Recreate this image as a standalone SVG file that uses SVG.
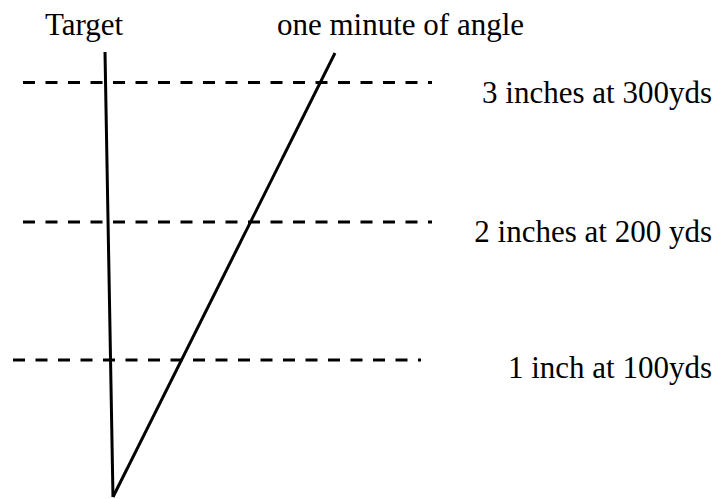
<svg xmlns="http://www.w3.org/2000/svg" width="724" height="499" viewBox="0 0 724 499">
<style>
.t{font-family:"Liberation Serif","Times New Roman",serif;font-size:31px;fill:#000}
.d{stroke:#000;stroke-width:3;stroke-dasharray:12 10.5;fill:none}
.s{stroke:#000;stroke-width:3;fill:none}
</style>
<rect width="724" height="499" fill="#fff"/>
<g id="dashes">
<line class="d" x1="23" y1="82.5" x2="432" y2="82.5"/>
<line class="d" x1="23" y1="222" x2="432" y2="222"/>
<line class="d" x1="13" y1="360" x2="421" y2="360"/>
</g>
<g id="connectors">
<line class="s" x1="105" y1="52" x2="113" y2="497"/>
<line class="s" x1="113" y1="497" x2="335" y2="53"/>
</g>
<g id="labels">
<text class="t" x="45" y="35">Target</text>
<text class="t" x="277" y="35">one minute of angle</text>
<text class="t" x="712" y="103" text-anchor="end">3 inches at 300yds</text>
<text class="t" x="712" y="242" text-anchor="end">2 inches at 200 yds</text>
<text class="t" x="712" y="378" text-anchor="end">1 inch at 100yds</text>
</g>
</svg>
